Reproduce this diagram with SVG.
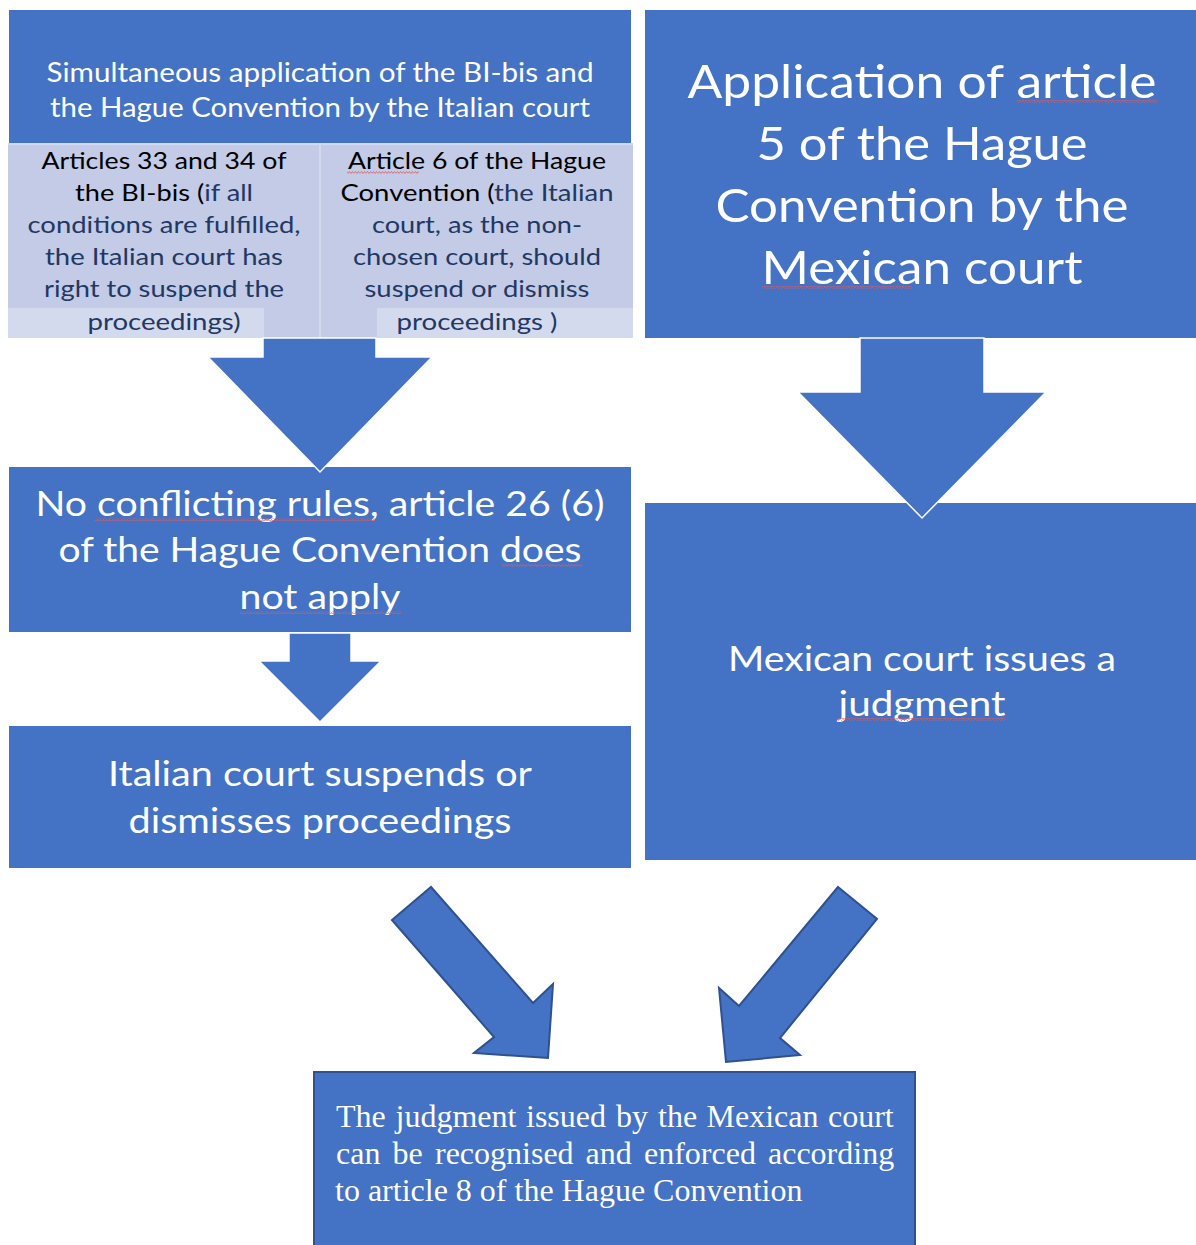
<svg xmlns="http://www.w3.org/2000/svg" width="1196" height="1245" viewBox="0 0 1196 1245">
<defs>
<style>
.box{fill:#4472c4}
.w{fill:#ffffff;font-family:Lato,"Open Sans",sans-serif;text-anchor:middle}
.c{font-family:Lato,"Open Sans",sans-serif;font-size:23px;text-anchor:middle;fill:#000}
.b{fill:#1f3864}
.s{font-family:"Liberation Serif","Times New Roman",serif;font-size:32px;fill:#fff}
.arr{fill:#4472c4;stroke:#ffffff;stroke-width:1.5}
.darr{fill:#4472c4;stroke:#2f528f;stroke-width:2;stroke-linejoin:miter}
.sq{fill:url(#wave)}
</style>
<pattern id="wave" width="6" height="3" patternUnits="userSpaceOnUse">
<path d="M0,2.5 L1.5,0.5 L3,2.5 L4.5,0.5 L6,2.5" fill="none" stroke="#e05a5a" stroke-width="0.8"/>
</pattern>
</defs>
<rect width="1196" height="1245" fill="#ffffff"/>

<g id="node-simultaneous">
<rect class="box" x="9" y="10" width="622" height="134"/>
<text class="w" font-size="26"><tspan x="320" y="82" textLength="547" lengthAdjust="spacingAndGlyphs">Simultaneous application of the BI-bis and</tspan></text>
<text class="w" font-size="26"><tspan x="320" y="117" textLength="540" lengthAdjust="spacingAndGlyphs">the Hague Convention by the Italian court</tspan></text>
</g>

<g id="node-articles-33-34">
<rect x="8" y="143" width="311" height="195" fill="#c3cbe6"/>
<rect x="8" y="308" width="256" height="30" fill="#d4daee"/>
<rect x="8" y="143" width="311" height="2" fill="#d4daee"/>
<text class="c" x="164" y="169" textLength="245" lengthAdjust="spacingAndGlyphs">Articles 33 and 34 of</text>
<text class="c" x="164" y="201" textLength="178" lengthAdjust="spacingAndGlyphs">the BI-bis (<tspan class="b">if all</tspan></text>
<text class="c b" x="164" y="233" textLength="273" lengthAdjust="spacingAndGlyphs">conditions are fulfilled,</text>
<text class="c b" x="164" y="265" textLength="238" lengthAdjust="spacingAndGlyphs">the Italian court has</text>
<text class="c b" x="164" y="297" textLength="240" lengthAdjust="spacingAndGlyphs">right to suspend the</text>
<text class="c b" x="164" y="330" textLength="153" lengthAdjust="spacingAndGlyphs">proceedings)</text>
</g>

<g id="node-article-6">
<rect x="321" y="143" width="312" height="195" fill="#c3cbe6"/>
<rect x="377" y="308" width="256" height="30" fill="#d4daee"/>
<rect x="321" y="143" width="312" height="2" fill="#d4daee"/>
<rect x="319" y="143" width="2" height="195" fill="#d4daee"/>
<text class="c" x="477" y="169" textLength="258" lengthAdjust="spacingAndGlyphs">Article 6 of the Hague</text>
<rect class="sq" x="347" y="171" width="72" height="3"/>
<text class="c" x="477" y="201" textLength="273" lengthAdjust="spacingAndGlyphs">Convention (<tspan class="b">the Italian</tspan></text>
<text class="c b" x="477" y="233" textLength="210" lengthAdjust="spacingAndGlyphs">court, as the non-</text>
<text class="c b" x="477" y="265" textLength="248" lengthAdjust="spacingAndGlyphs">chosen court, should</text>
<text class="c b" x="477" y="297" textLength="225" lengthAdjust="spacingAndGlyphs">suspend or dismiss</text>
<text class="c b" x="477" y="330" textLength="161" lengthAdjust="spacingAndGlyphs">proceedings )</text>
</g>

<g id="node-article-5">
<rect class="box" x="645" y="10" width="551" height="328"/>
<text class="w" font-size="47" x="922" y="98" textLength="469" lengthAdjust="spacingAndGlyphs">Application of article</text>
<rect class="sq" x="1017" y="100" width="140" height="3"/>
<text class="w" font-size="47" x="922" y="160" textLength="331" lengthAdjust="spacingAndGlyphs">5 of the Hague</text>
<text class="w" font-size="47" x="922" y="222" textLength="413" lengthAdjust="spacingAndGlyphs">Convention by the</text>
<text class="w" font-size="47" x="922" y="284" textLength="321" lengthAdjust="spacingAndGlyphs">Mexican court</text>
<rect class="sq" x="762" y="286" width="150" height="3"/>
</g>

<g id="node-no-conflicting">
<rect class="box" x="9" y="467" width="622" height="165"/>
<text class="w" font-size="35" x="320" y="516" textLength="569" lengthAdjust="spacingAndGlyphs">No conflicting rules, article 26 (6)</text>
<rect class="sq" x="95" y="518" width="280" height="3"/>
<text class="w" font-size="35" x="320" y="562" textLength="523" lengthAdjust="spacingAndGlyphs">of the Hague Convention does</text>
<rect class="sq" x="502" y="564" width="80" height="3"/>
<text class="w" font-size="35" x="320" y="609" textLength="161" lengthAdjust="spacingAndGlyphs">not apply</text>
<rect class="sq" x="240" y="611" width="161" height="3"/>
</g>

<g id="node-italian-suspends">
<rect class="box" x="9" y="726" width="622" height="142"/>
<text class="w" font-size="35" x="320" y="786" textLength="424" lengthAdjust="spacingAndGlyphs">Italian court suspends or</text>
<text class="w" font-size="35" x="320" y="833" textLength="383" lengthAdjust="spacingAndGlyphs">dismisses proceedings</text>
</g>

<g id="node-mexican-judgment">
<rect class="box" x="645" y="503" width="551" height="357"/>
<text class="w" font-size="35" x="922" y="671" textLength="388" lengthAdjust="spacingAndGlyphs">Mexican court issues a</text>
<text class="w" font-size="35" x="922" y="716" textLength="167" lengthAdjust="spacingAndGlyphs">judgment</text>
<rect class="sq" x="838" y="718" width="167" height="3"/>
</g>

<g id="node-recognition">
<rect x="314" y="1072" width="601" height="180" fill="#4472c4" stroke="#2f528f" stroke-width="2"/>
<text class="s" y="1127"><tspan x="336">The </tspan><tspan x="395.5">judgment </tspan><tspan x="526">issued </tspan><tspan x="616">by </tspan><tspan x="658">the </tspan><tspan x="706.5">Mexican </tspan><tspan x="828">court</tspan></text>
<text class="s" y="1164"><tspan x="336">can </tspan><tspan x="392.5">be </tspan><tspan x="435">recognised </tspan><tspan x="585.5">and </tspan><tspan x="644">enforced </tspan><tspan x="768">according</tspan></text>
<text class="s" x="335" y="1201">to article 8 of the Hague Convention</text>
</g>

<g id="connectors">
<polygon class="arr" points="263,338 376,338 376,357 432,357 320,472 208,357 263,357"/>
<polygon class="arr" points="860,338 984,338 984,392 1046,392 922,518 798,392 860,392"/>
<polygon class="arr" points="289,633 351,633 351,661 381,661 320,722 259,661 289,661"/>
<polygon class="darr" points="392,920 431,887 533,1003 553,984 548,1058 474,1053 494,1037"/>
<polygon class="darr" points="838,887 877,919 780,1038 800,1055 726,1062 719,988 739,1006"/>
</g>
</svg>
